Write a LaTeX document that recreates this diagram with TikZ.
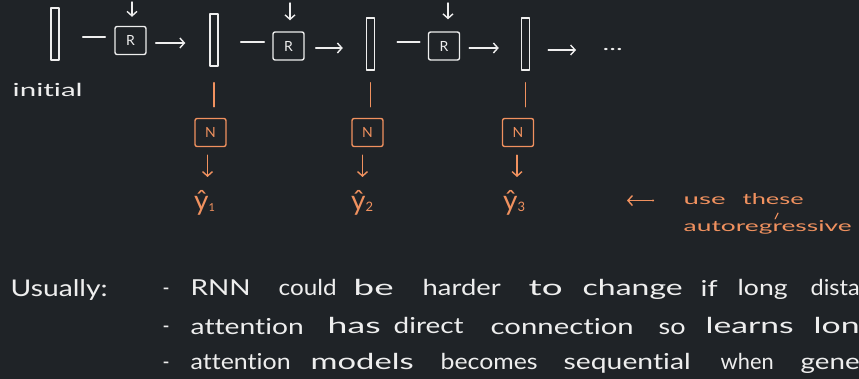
\documentclass[tikz,border=0pt]{standalone}
\usepackage{fontspec}
\setmainfont{Lato}[Ligatures={NoCommon}]
\usetikzlibrary{arrows.meta}
\definecolor{board}{RGB}{31,35,39}
\definecolor{chalk}{RGB}{238,238,238}
\definecolor{ink}{RGB}{240,145,95}
% a word set at a horizontal offset and stretched to a given width
\newcommand\hw[3]{\makebox[0pt][l]{\hspace*{#1pt}\resizebox{#2pt}{\height}{#3}}}
\newcommand\fs[1]{\fontsize{#1}{#1}\selectfont}

\begin{document}
\begin{tikzpicture}[x=1pt,y=-1pt,line cap=round,line join=round,
  chalkline/.style={draw=chalk,line width=1.4pt},
  inkline/.style={draw=ink,line width=1.4pt},
  vecbox/.style={draw=chalk,line width=1.4pt,minimum width=8pt,minimum height=52pt,inner sep=0pt},
  cell/.style={draw=chalk,line width=1.4pt,rounded corners=2pt,minimum width=31pt,minimum height=28pt,inner sep=0pt,text=chalk,font=\fs{14}},
  ocell/.style={cell,draw=ink,text=ink},
  tip/.style={-{Straight Barb[length=4.5pt,width=10pt]}},
  hand/.style={inner sep=0pt,anchor=base west,text=chalk,font=\fs{22}},
  ohand/.style={inner sep=0pt,anchor=base west,text=ink,font=\fs{15}},
  yhat/.style={inner sep=0pt,anchor=base west,text=ink,font=\fs{28}}]

\fill[board] (0,0) rectangle (859,379);
\useasboundingbox (0,0) rectangle (859,379);

% hidden-state vectors
\node[vecbox] (h0) at (55,34) {};
\node[vecbox] (h1) at (214,40) {};
\node[vecbox] (h2) at (370.5,44) {};
\node[vecbox] (h3) at (525.5,44) {};

% recurrent cells
\node[cell] (r1) at (130.5,40.5) {R};
\node[cell] (r2) at (288.5,46) {R};
\node[cell] (r3) at (444,46) {R};

% inputs dropping into each cell
\coordinate (in1) at (132,2);
\coordinate (in2) at (290,3);
\coordinate (in3) at (448,3);
\draw[chalkline,tip,shorten >=9pt] (in1) -- (in1 |- r1.north);
\draw[chalkline,tip,shorten >=11pt] (in2) -- (in2 |- r2.north);
\draw[chalkline,tip,shorten >=12pt] (in3) -- (in3 |- r3.north);

% state -> cell -> next state
\draw[chalkline,shorten <=23pt,shorten >=9pt] ([yshift=3.5pt]h0.east |- r1.west) -- ([yshift=3.5pt]r1.west);
\draw[chalkline,tip,shorten <=9pt,shorten >=24pt] ([yshift=-2.5pt]r1.east) -- ([yshift=-2.5pt]r1.east -| h1.west);
\draw[chalkline,shorten <=22pt,shorten >=8pt] ([yshift=4pt]h1.east |- r2.west) -- ([yshift=4pt]r2.west);
\draw[chalkline,tip,shorten <=11pt,shorten >=23pt] ([yshift=-2pt]r2.east) -- ([yshift=-2pt]r2.east -| h2.west);
\draw[chalkline,shorten <=22pt,shorten >=8pt] ([yshift=4pt]h2.east |- r3.west) -- ([yshift=4pt]r3.west);
\draw[chalkline,tip,shorten <=9pt,shorten >=22pt] ([yshift=-2pt]r3.east) -- ([yshift=-2pt]r3.east -| h3.west);

\node[inner sep=0pt,anchor=base west,text=chalk,font=\fs{18}] (dots) at (602,51) {\hw{0}{20}{...}};
\draw[chalkline,tip,shorten <=18pt,shorten >=26pt] ([yshift=-6pt]h3.east) -- ([yshift=-6pt]h3.east -| dots.west);

\node[hand,font=\fs{18}] (init) at (12,97) {\hw{0}{70}{initial}};

% output heads
\node[ocell] (n1) at (210.5,132.5) {N};
\node[ocell] (n2) at (367.5,132.5) {N};
\node[ocell] (n3) at (518,132.5) {N};

\draw[inkline,shorten <=16pt,shorten >=11pt] (h1.south) -- (h1.south |- n1.north);
\draw[inkline,shorten <=12pt,shorten >=11pt] (h2.south) -- (h2.south |- n2.north);
\draw[inkline,shorten <=12pt,shorten >=11pt] (h3.south) -- (h3.south |- n3.north);

\node[yhat] (y1) at (194,211) {ŷ{\fs{11}\raisebox{-1pt}{1}}};
\node[yhat] (y2) at (351,211) {ŷ{\fs{13}\raisebox{-1pt}{2}}};
\node[yhat] (y3) at (503,211) {ŷ{\fs{13}\raisebox{-1pt}{3}}};

\draw[inkline,tip,shorten <=8pt,shorten >=34pt] ([xshift=-3pt]n1.south) -- ([xshift=-3pt]n1.south |- y1.base);
\draw[inkline,tip,shorten <=8pt,shorten >=34pt] ([xshift=-5pt]n2.south) -- ([xshift=-5pt]n2.south |- y2.base);
\draw[inkline,tip,shorten <=8pt,shorten >=34pt] ([xshift=-1pt]n3.south) -- ([xshift=-1pt]n3.south |- y3.base);

% side note pointing back at the predictions
\node[ohand] (note) at (683,205) {\hw{0}{42}{use}\hw{59}{61}{these}};
\node[ohand] (note2) at (683,232) {\hw{0}{168}{autoregressive}};
\coordinate (ptr) at ([xshift=-56pt,yshift=-1pt]note.west);
\draw[inkline,tip,shorten <=30pt] ([yshift=-1pt]note.west) -- (ptr);
\fill[ink] ([xshift=-30pt,yshift=-1pt]note.west) circle (1.2pt);
\draw[inkline,line width=1.1pt] ([xshift=92pt,yshift=13pt]note2.base west) -- ([xshift=95pt,yshift=19pt]note2.base west);

% remarks
\node[hand,font=\fs{23}] (usu) at (10,297) {\hw{0}{97}{Usually:}};
\node[hand] (b1) at (160,296) {\hw{2}{7}{-}\hw{30}{60}{RNN}\hw{118}{58}{could}\hw{193}{40}{be}\hw{262}{78}{harder}\hw{368}{34}{to}\hw{422}{100}{change}\hw{540}{17}{if}\hw{577}{50}{long}\hw{650}{49}{dista}};
\node[hand] (b2) at (160,334) {\hw{2}{7}{-}\hw{30}{113}{attention}\hw{167}{53}{has}\hw{233}{70}{direct}\hw{330}{143}{connection}\hw{498}{27}{so}\hw{545}{88}{learns}\hw{653}{46}{lon}};
\node[hand] (b3) at (160,369) {\hw{2}{7}{-}\hw{30}{100}{attention}\hw{150}{103}{models}\hw{280}{97}{becomes}\hw{403}{127}{sequential}\hw{560}{53}{when}\hw{640}{59}{gene}};
\end{tikzpicture}
\end{document}
